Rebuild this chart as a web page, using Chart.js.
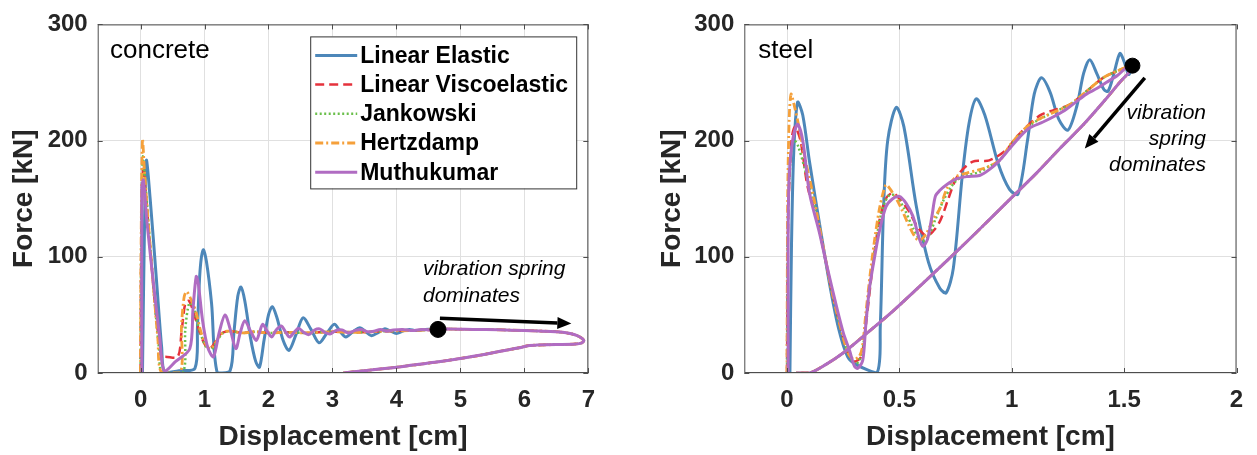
<!DOCTYPE html>
<html>
<head>
<meta charset="utf-8">
<title>Force vs displacement</title>
<script src="https://cdn.jsdelivr.net/npm/chart.js@4.4.1/dist/chart.umd.min.js"></script>
<style>
  html, body { margin: 0; padding: 0; background: #fff; }
  #wrap { position: relative; width: 1257px; height: 455px; }
  canvas { position: absolute; top: 0; }
  #concreteChart { left: 0; }
  #steelChart { left: 632px; }
</style>
</head>
<body>
<div id="wrap">
  <canvas id="concreteChart" width="625" height="455"></canvas>
  <canvas id="steelChart" width="625" height="455"></canvas>
</div>
<script>
// legend / series names
const seriesNames = ['Linear Elastic', 'Linear Viscoelastic', 'Jankowski', 'Hertzdamp', 'Muthukumar'];

// tick values
const forceTicks = [0, 100, 200, 300];
const concreteXTicks = [0, 1, 2, 3, 4, 5, 6, 7];
const steelXTicks = [0, 0.5, 1, 1.5, 2];

// ---- concrete: [displacement cm, force kN] ----
const concreteElastic = [[0.03,0],[0.06,120],[0.09,183],[0.15,150],[0.25,79],[0.33,22],[0.38,0],[0.6,2],[0.85,4],[0.89,40],[0.93,88],[0.98,106],[1.03,96],[1.11,60],[1.2,0],[1.4,2],[1.46,35],[1.52,66],[1.57,74],[1.63,62],[1.72,30],[1.8,10],[1.86,5],[1.93,28],[2.0,50],[2.06,57],[2.13,48],[2.23,28],[2.32,19.5],[2.43,33],[2.54,47.5],[2.66,38],[2.79,26],[2.91,34],[3.03,42],[3.13,35],[3.21,31],[3.32,35.5],[3.43,39],[3.52,35.5],[3.61,32],[3.72,35],[3.82,38],[3.91,36],[4.0,34],[4.1,36],[4.2,37.5],[4.3,36.5],[4.45,37.5],[4.6,37.5]];
const concreteViscoelastic = [[0,0],[0.01,100],[0.04,178],[0.08,155],[0.15,108],[0.22,62],[0.3,22],[0.34,12],[0.37,14],[0.58,14],[0.64,35],[0.7,60],[0.76,62],[0.84,50],[0.92,36],[1.0,25],[1.08,21],[1.16,26],[1.26,34],[1.4,36]];
const concreteJankowski = [[0,0],[0.01,110],[0.035,186],[0.08,160],[0.15,110],[0.22,62],[0.29,20],[0.34,0],[0.66,0],[0.7,38],[0.76,60],[0.82,58],[0.88,45],[0.95,32],[1.03,22],[1.1,20],[1.18,26],[1.28,34],[1.4,36]];
const concreteHertzdamp = [[0,0],[0.01,120],[0.03,201],[0.06,175],[0.12,130],[0.2,75],[0.27,30],[0.33,0],[0.62,0],[0.64,40],[0.68,65],[0.72,70],[0.8,62],[0.87,52],[0.93,38],[1.0,27],[1.08,21],[1.15,24],[1.25,33],[1.35,36]];
const concreteSettle = [[1.6,34.5],[1.8,35.5],[2.0,34.5],[2.3,35],[2.6,34.5],[3.0,35.5],[3.4,35],[3.8,36],[4.2,36.5],[4.65,37.5]];
const concreteMuthukumar = [[0.02,0],[0.02,160],[0.045,166],[0.1,130],[0.2,78],[0.3,30],[0.37,2],[0.55,10],[0.77,21],[0.82,55],[0.87,83],[0.9,78],[0.97,45],[1.05,22],[1.14,14],[1.23,35],[1.32,50],[1.4,38],[1.49,21],[1.56,35],[1.63,45],[1.72,36],[1.81,28],[1.86,35],[1.91,42],[1.98,36],[2.05,31],[2.12,37],[2.2,40.5],[2.27,35],[2.33,31],[2.4,35],[2.47,38.5],[2.55,35],[2.63,33],[2.72,37],[2.8,38],[2.88,35],[2.96,33.5],[3.05,36.5],[3.15,37],[3.25,34.5],[3.35,36.5],[3.45,37.5],[3.55,35.5],[3.65,36],[3.75,37.5],[3.85,36],[3.95,37],[4.1,37.5],[4.25,36.5],[4.4,37.5],[4.55,37],[4.65,37.5]];
const concreteUnload = [[4.8,37.8],[5.2,37.5],[5.6,37.2],[6.0,36.5],[6.3,36],[6.6,35],[6.75,33.5],[6.87,31],[6.93,28],[6.9,26],[6.8,25],[6.5,24.5],[6.2,24],[6.08,23.7],[5.9,21.5],[5.6,18.5],[5.3,15.2],[5.0,12.5],[4.6,9.2],[4.26,6.8],[3.9,4.3],[3.5,2],[3.17,0]];
const concreteDot = [[4.65, 37.5]];
const concreteArrow = [[4.68, 47.2], [6.735, 42.6]];

// ---- steel ----
const steelElastic = [[0.013,0],[0.02,110],[0.03,190],[0.047,233],[0.07,222],[0.1,182],[0.145,128],[0.19,76],[0.23,38],[0.27,14],[0.31,7],[0.4,0],[0.415,40],[0.43,144],[0.448,200],[0.486,228.5],[0.52,212],[0.575,144],[0.63,95],[0.68,73],[0.708,69],[0.74,90],[0.78,170],[0.81,215],[0.842,236],[0.88,222],[0.94,180],[0.99,158],[1.028,154],[1.07,200],[1.1,240],[1.132,254],[1.17,242],[1.21,218],[1.25,209],[1.29,230],[1.32,258],[1.347,269.5],[1.38,257],[1.41,244],[1.429,242.6],[1.455,258],[1.481,275],[1.5,268],[1.52,257],[1.535,262]];
const steelViscoelastic = [[0,0],[0.005,130],[0.02,200],[0.035,212],[0.06,200],[0.092,160],[0.13,135],[0.16,108],[0.2,70],[0.24,38],[0.27,18],[0.3,10],[0.33,14],[0.35,40],[0.38,90],[0.41,130],[0.44,150],[0.47,155],[0.5,150],[0.54,140],[0.58,126],[0.62,118],[0.65,122],[0.679,130],[0.7,140],[0.716,149],[0.76,170],[0.827,182],[0.9,183],[0.976,192],[1.02,203],[1.124,221.5],[1.2,227],[1.258,231],[1.33,242],[1.406,254],[1.47,260],[1.537,264.5]];
const steelJankowski = [[0,0],[0.005,140],[0.02,195],[0.033,200],[0.05,195],[0.08,175],[0.12,145],[0.16,108],[0.2,70],[0.24,38],[0.27,18],[0.3,8],[0.32,10],[0.34,25],[0.36,60],[0.39,105],[0.42,138],[0.45,152],[0.48,153],[0.52,142],[0.56,125],[0.6,113],[0.63,118],[0.66,132],[0.7,150],[0.75,165],[0.8,170],[0.857,173],[0.9,178],[0.946,183],[1.0,197],[1.08,213],[1.16,222],[1.258,231],[1.33,242],[1.406,254],[1.47,260],[1.537,264.5]];
const steelHertzdamp = [[0,0],[0.003,150],[0.01,220],[0.018,240],[0.03,232],[0.05,215],[0.08,185],[0.12,150],[0.16,110],[0.2,70],[0.24,38],[0.27,18],[0.295,12],[0.32,14],[0.335,22],[0.35,50],[0.37,85],[0.39,115],[0.41,140],[0.43,157],[0.441,162],[0.46,158],[0.5,145],[0.54,128],[0.57,117],[0.59,114],[0.62,120],[0.65,132],[0.679,141],[0.71,158],[0.753,169],[0.8,172],[0.857,175],[0.9,178],[0.946,183],[1.0,198],[1.08,214],[1.16,222],[1.258,231],[1.33,242],[1.406,254],[1.47,260],[1.537,264.5]];
const steelMuthukumar = [[0.005,0],[0.005,120],[0.01,170],[0.025,200],[0.047,214],[0.07,200],[0.1,155],[0.144,121],[0.18,90],[0.218,59],[0.25,35],[0.278,19.5],[0.3,6],[0.315,4],[0.337,11],[0.35,40],[0.367,73],[0.39,100],[0.41,121],[0.44,143],[0.47,150],[0.5,152],[0.53,146],[0.56,135],[0.585,118],[0.604,109],[0.625,115],[0.645,135],[0.66,152],[0.679,157],[0.71,162],[0.753,167],[0.8,169],[0.857,170],[0.9,175],[0.946,183],[0.99,193],[1.035,203],[1.08,211],[1.139,216],[1.19,221],[1.243,227],[1.29,234],[1.332,240],[1.38,245],[1.42,250],[1.47,256],[1.511,263],[1.537,264.5]];
const steelUnload = [[1.525,259.6],[1.48,250],[1.42,236],[1.32,214],[1.213,193],[1.11,172],[1.005,152],[0.89,130],[0.768,107],[0.62,80],[0.47,53],[0.36,35],[0.248,17],[0.17,7],[0.1,0],[0.04,0]];
const steelDot = [[1.537, 264.5]];
const steelArrow = [[1.592, 254], [1.325, 193.2]];

// styles
const colors = ['#4d87b9', '#e5323c', '#6abf4b', '#f5a03a', '#b06cc2'];
const dashes = [[], [9, 5], [2, 2.5], [8, 3, 2, 3], []];
const widths = [3, 2.5, 2.5, 2.8, 3];
const FONT = "'Liberation Sans', Arial, Helvetica, sans-serif";
const TXT = '#262626';

const toPts = arr => arr.map(([x, y]) => ({ x, y }));

function series(i, pts) {
    return {
        label: seriesNames[i],
        data: toPts(pts),
        showLine: true,
        borderColor: colors[i],
        backgroundColor: colors[i],
        borderWidth: widths[i],
        borderDash: dashes[i],
        pointRadius: 0,
        pointHoverRadius: 0,
        tension: 0.3,
        fill: false,
        order: 10 - i
    };
}

function dotSet(pts, r) {
    return {
        label: 'peak',
        data: toPts(pts),
        showLine: false,
        pointRadius: r,
        pointBackgroundColor: '#000',
        pointBorderColor: '#000',
        order: 0
    };
}

// box, inner ticks, arrow, texts and legend
const decorPlugin = {
    id: 'decor',
    afterDraw(chart, args, o) {
        const { ctx, chartArea: a, scales: { x, y } } = chart;
        ctx.save();

        // axes box
        ctx.strokeStyle = '#4d4d4d';
        ctx.lineWidth = 1;
        ctx.strokeRect(a.left + 0.5, a.top + 0.5, a.right - a.left - 1, a.bottom - a.top - 1);
        ctx.beginPath();
        x.ticks.forEach(t => {
            const px = Math.round(x.getPixelForValue(t.value)) + 0.5;
            ctx.moveTo(px, a.bottom); ctx.lineTo(px, a.bottom - 5);
            ctx.moveTo(px, a.top); ctx.lineTo(px, a.top + 5);
        });
        y.ticks.forEach(t => {
            const py = Math.round(y.getPixelForValue(t.value)) + 0.5;
            ctx.moveTo(a.left, py); ctx.lineTo(a.left + 5, py);
            ctx.moveTo(a.right, py); ctx.lineTo(a.right - 5, py);
        });
        ctx.stroke();

        // arrow
        const [p0, p1] = o.arrow;
        const x0 = x.getPixelForValue(p0[0]), y0 = y.getPixelForValue(p0[1]);
        const x1 = x.getPixelForValue(p1[0]), y1 = y.getPixelForValue(p1[1]);
        const ang = Math.atan2(y1 - y0, x1 - x0);
        const headL = 14, headW = 6;
        ctx.strokeStyle = '#000';
        ctx.fillStyle = '#000';
        ctx.lineWidth = 3.5;
        ctx.beginPath();
        ctx.moveTo(x0, y0);
        ctx.lineTo(x1 - headL * Math.cos(ang), y1 - headL * Math.sin(ang));
        ctx.stroke();
        ctx.beginPath();
        ctx.moveTo(x1, y1);
        ctx.lineTo(x1 - headL * Math.cos(ang) + headW * Math.sin(ang), y1 - headL * Math.sin(ang) - headW * Math.cos(ang));
        ctx.lineTo(x1 - headL * Math.cos(ang) - headW * Math.sin(ang), y1 - headL * Math.sin(ang) + headW * Math.cos(ang));
        ctx.closePath();
        ctx.fill();

        // material label
        ctx.fillStyle = '#000';
        ctx.textBaseline = 'alphabetic';
        ctx.textAlign = 'left';
        ctx.font = `26px ${FONT}`;
        ctx.fillText(o.label, a.left + o.labelDx, a.top + 34);

        // note
        ctx.font = `italic 21px ${FONT}`;
        ctx.textAlign = o.noteAlign;
        o.note.forEach((s, i) => ctx.fillText(s, a.left + o.noteDx, a.top + o.noteDy + i * o.noteGap));

        // legend
        if (o.legend) {
            const bx = a.left + 212.5, by = a.top + 12, bw = 266, bh = 152;
            ctx.fillStyle = '#fff';
            ctx.fillRect(bx, by, bw, bh);
            ctx.strokeStyle = '#333';
            ctx.lineWidth = 1;
            ctx.strokeRect(bx + 0.5, by + 0.5, bw, bh);
            ctx.font = `bold 23px ${FONT}`;
            ctx.textAlign = 'left';
            ctx.textBaseline = 'middle';
            seriesNames.forEach((name, i) => {
                const ry = by + 19 + i * 29.2;
                ctx.strokeStyle = colors[i];
                ctx.lineWidth = widths[i];
                ctx.setLineDash(dashes[i]);
                ctx.beginPath();
                ctx.moveTo(bx + 5, ry);
                ctx.lineTo(bx + 47, ry);
                ctx.stroke();
                ctx.setLineDash([]);
                ctx.fillStyle = '#000';
                ctx.fillText(name, bx + 50, ry + 1);
            });
        }
        ctx.restore();
    }
};

function makeChart(id, datasets, xMin, xMax, xTicks, yWidth, yTitlePad, padRight, decor) {
    return new Chart(document.getElementById(id), {
        type: 'scatter',
        data: { datasets },
        options: {
            responsive: false,
            animation: false,
            devicePixelRatio: 1,
            layout: { padding: { left: 0, top: 19, right: padRight, bottom: 0 } },
            plugins: {
                legend: { display: false },
                tooltip: { enabled: false },
                decor
            },
            scales: {
                x: {
                    type: 'linear',
                    min: xMin,
                    max: xMax,
                    afterBuildTicks: s => { s.ticks = xTicks.map(v => ({ value: v })); },
                    afterFit: s => { s.height = 82; },
                    ticks: {
                        color: TXT,
                        padding: 12.5,
                        font: { family: FONT, size: 24, weight: 'bold' },
                        callback: v => String(v)
                    },
                    grid: { color: '#e0e0e0', drawTicks: false },
                    border: { display: false },
                    title: {
                        display: true,
                        text: 'Displacement [cm]',
                        color: TXT,
                        font: { family: FONT, size: 28, weight: 'bold' },
                        padding: { top: 0, bottom: 0.5 }
                    }
                },
                y: {
                    type: 'linear',
                    min: 0,
                    max: 300,
                    afterBuildTicks: s => { s.ticks = forceTicks.map(v => ({ value: v })); },
                    afterFit: s => { s.width = yWidth; },
                    ticks: {
                        color: TXT,
                        padding: 10,
                        font: { family: FONT, size: 24, weight: 'bold' },
                        callback: v => String(v)
                    },
                    grid: { color: '#e0e0e0', drawTicks: false },
                    border: { display: false },
                    title: {
                        display: true,
                        text: 'Force [kN]',
                        color: TXT,
                        font: { family: FONT, size: 28, weight: 'bold' },
                        padding: { top: yTitlePad, bottom: 0 }
                    }
                }
            }
        },
        plugins: [decorPlugin]
    });
}

makeChart('concreteChart', [
    series(0, concreteElastic),
    series(1, concreteViscoelastic.concat(concreteSettle, concreteUnload)),
    series(2, concreteJankowski.concat(concreteSettle, concreteUnload)),
    series(3, concreteHertzdamp.concat(concreteSettle, concreteUnload)),
    series(4, concreteMuthukumar.concat(concreteUnload)),
    dotSet(concreteDot, 8)
], -0.67, 7, concreteXTicks, 97.7, 7.5, 36.7, {
    label: 'concrete', labelDx: 12.3,
    arrow: concreteArrow,
    note: ['vibration spring', 'dominates'], noteAlign: 'left', noteDx: 325.3, noteDy: 251, noteGap: 27,
    legend: true
});

makeChart('steelChart', [
    series(0, steelElastic),
    series(1, steelViscoelastic.concat(steelUnload)),
    series(2, steelJankowski.concat(steelUnload)),
    series(3, steelHertzdamp.concat(steelUnload)),
    series(4, steelMuthukumar.concat(steelUnload)),
    dotSet(steelDot, 7.5)
], -0.19, 2, steelXTicks, 112.3, 23, 20.5, {
    label: 'steel', labelDx: 14,
    arrow: steelArrow,
    note: ['vibration', 'spring', 'dominates'], noteAlign: 'right', noteDx: 461.7, noteDy: 95, noteGap: 26,
    legend: false
});
</script>
</body>
</html>
